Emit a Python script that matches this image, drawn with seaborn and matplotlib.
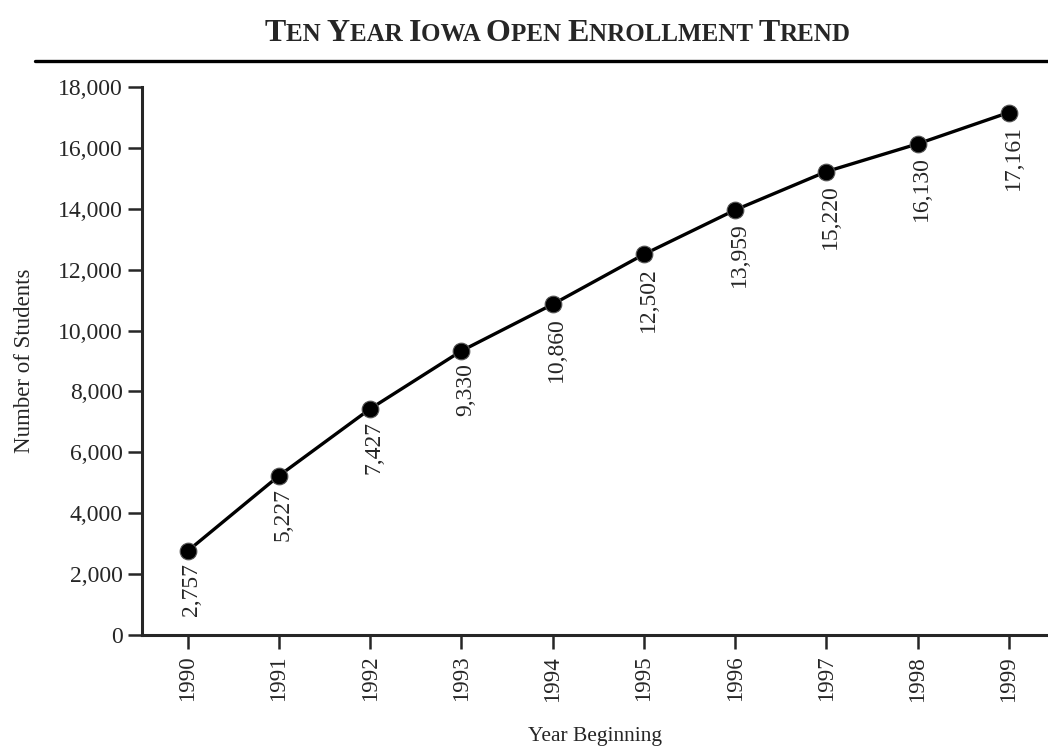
import matplotlib
matplotlib.use("Agg")
import matplotlib.pyplot as plt
import seaborn as sns
import pandas as pd
from matplotlib.lines import Line2D
from matplotlib.ticker import FuncFormatter
from matplotlib.offsetbox import TextArea, HPacker, AnchoredOffsetbox

# data
years = [1990, 1991, 1992, 1993, 1994, 1995, 1996, 1997, 1998, 1999]
students = [2757, 5227, 7427, 9330, 10860, 12502, 13959, 15220, 16130, 17161]
y_ticks = [0, 2000, 4000, 6000, 8000, 10000, 12000, 14000, 16000, 18000]

title_words = ["Ten", "Year", "Iowa", "Open", "Enrollment", "Trend"]

sns.set_style("ticks")
plt.rcParams["font.family"] = ["Liberation Serif", "DejaVu Serif"]
plt.rcParams["axes.linewidth"] = 2.2
plt.rcParams["xtick.major.width"] = 1.8
plt.rcParams["ytick.major.width"] = 1.8

df = pd.DataFrame({"Year": years, "Students": students})

fig = plt.figure(figsize=(10.48, 7.53), dpi=100)
ax = fig.add_axes([0.1355, 0.1567, 1 - 0.1355, 0.8845 - 0.1567])

sns.lineplot(data=df, x="Year", y="Students", ax=ax, color="black", linewidth=2.4,
             marker="o", markersize=12, markerfacecolor="black",
             markeredgecolor="#555555", markeredgewidth=0.8)

# value labels, rotated, just under each point
for yr, val in zip(years, students):
    ax.annotate(f"{val:,}", xy=(yr, val), xytext=(3, -9), textcoords="offset points",
                rotation=90, ha="center", va="top", fontsize=17)

ax.set_xlim(1989.5, 1999.43)
ax.set_ylim(0, 18000)
ax.set_xticks(years)
ax.set_xticklabels([str(y) for y in years], rotation=90, fontsize=16.5)
ax.set_yticks(y_ticks)
ax.yaxis.set_major_formatter(FuncFormatter(lambda v, p: f"{int(v):,}"))
ax.tick_params(axis="y", labelsize=17, length=10, pad=4)
ax.tick_params(axis="x", length=10, pad=5)
sns.despine(ax=ax)

ax.set_xlabel("Year Beginning", fontsize=15.5)
ax.set_ylabel("Number of Students", fontsize=16.5)
ax.xaxis.set_label_coords(0.5, -0.168)
ax.yaxis.set_label_coords(-0.118, 0.5)

# small caps title built from pieces
pieces = []
for i, w in enumerate(title_words):
    first = w[0]
    rest = w[1:].upper() + (" " if i < len(title_words) - 1 else "")
    pieces.append(TextArea(first, textprops=dict(fontsize=23, fontweight="bold",
                                                 family="Liberation Serif")))
    pieces.append(TextArea(rest, textprops=dict(fontsize=18, fontweight="bold",
                                                family="Liberation Serif")))
title_box = HPacker(children=pieces, align="baseline", pad=0, sep=0)
anchored = AnchoredOffsetbox(loc="center", child=title_box, pad=0, frameon=False,
                             bbox_to_anchor=(0.532, 0.956),
                             bbox_transform=fig.transFigure, borderpad=0)
fig.add_artist(anchored)

# rule under the title
fig.add_artist(Line2D([35 / 1048, 1.0], [1 - 61 / 753, 1 - 61 / 753],
                      transform=fig.transFigure, color="black", linewidth=2.4))

fig.savefig("out.png", dpi=100)
